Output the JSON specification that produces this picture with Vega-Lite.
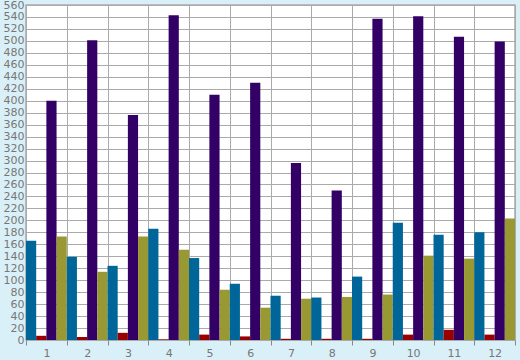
{
  "$schema": "https://vega.github.io/schema/vega-lite/v6.json",
  "autosize": "none",
  "width": 489,
  "height": 335,
  "padding": {"left": 26, "top": 5, "right": 5, "bottom": 20},
  "background": "#daf0f8",
  "config": {
    "view": {"fill": "white", "stroke": "#aaaaaa", "strokeWidth": 1.5},
    "axis": {"labelFont": "DejaVu Sans", "labelFontSize": 11, "labelColor": "#777777", "gridColor": "#aaaaaa", "gridOpacity": 1, "gridWidth": 1, "domain": false, "title": null}
  },
  "data": {"values": [
    {"g": 1, "s": "a", "v": 166}, {"g": 1, "s": "b", "v": 7}, {"g": 1, "s": "c", "v": 400}, {"g": 1, "s": "d", "v": 173},
    {"g": 2, "s": "a", "v": 139}, {"g": 2, "s": "b", "v": 5}, {"g": 2, "s": "c", "v": 501}, {"g": 2, "s": "d", "v": 114},
    {"g": 3, "s": "a", "v": 124}, {"g": 3, "s": "b", "v": 12}, {"g": 3, "s": "c", "v": 376}, {"g": 3, "s": "d", "v": 173},
    {"g": 4, "s": "a", "v": 186}, {"g": 4, "s": "b", "v": 1}, {"g": 4, "s": "c", "v": 543}, {"g": 4, "s": "d", "v": 151},
    {"g": 5, "s": "a", "v": 137}, {"g": 5, "s": "b", "v": 9}, {"g": 5, "s": "c", "v": 410}, {"g": 5, "s": "d", "v": 84},
    {"g": 6, "s": "a", "v": 94}, {"g": 6, "s": "b", "v": 6}, {"g": 6, "s": "c", "v": 430}, {"g": 6, "s": "d", "v": 54},
    {"g": 7, "s": "a", "v": 74}, {"g": 7, "s": "b", "v": 2}, {"g": 7, "s": "c", "v": 296}, {"g": 7, "s": "d", "v": 69},
    {"g": 8, "s": "a", "v": 71}, {"g": 8, "s": "b", "v": 2}, {"g": 8, "s": "c", "v": 250}, {"g": 8, "s": "d", "v": 72},
    {"g": 9, "s": "a", "v": 106}, {"g": 9, "s": "b", "v": 2}, {"g": 9, "s": "c", "v": 537}, {"g": 9, "s": "d", "v": 76},
    {"g": 10, "s": "a", "v": 196}, {"g": 10, "s": "b", "v": 9}, {"g": 10, "s": "c", "v": 541}, {"g": 10, "s": "d", "v": 141},
    {"g": 11, "s": "a", "v": 176}, {"g": 11, "s": "b", "v": 17}, {"g": 11, "s": "c", "v": 507}, {"g": 11, "s": "d", "v": 136},
    {"g": 12, "s": "a", "v": 180}, {"g": 12, "s": "b", "v": 9}, {"g": 12, "s": "c", "v": 499}, {"g": 12, "s": "d", "v": 203}
  ]},
  "mark": {"type": "bar"},
  "encoding": {
    "x": {"field": "g", "type": "ordinal", "scale": {"paddingInner": 0, "paddingOuter": 0},
      "axis": {"labelAngle": 0, "tickBand": "extent", "grid": true, "ticks": true, "tickColor": "#888888", "tickSize": 5, "tickOffset": 0, "labelPadding": 2}},
    "xOffset": {"field": "s", "type": "nominal", "scale": {"paddingInner": 0, "paddingOuter": 0}},
    "y": {"field": "v", "type": "quantitative", "scale": {"domain": [0, 560], "nice": false},
      "axis": {"values": [0,20,40,60,80,100,120,140,160,180,200,220,240,260,280,300,320,340,360,380,400,420,440,460,480,500,520,540,560], "ticks": false, "labelPadding": 2, "grid": true}},
    "color": {"field": "s", "type": "nominal", "legend": null,
      "scale": {"domain": ["a", "b", "c", "d"], "range": ["#006699", "#990000", "#330066", "#999933"]}}
  }
}
